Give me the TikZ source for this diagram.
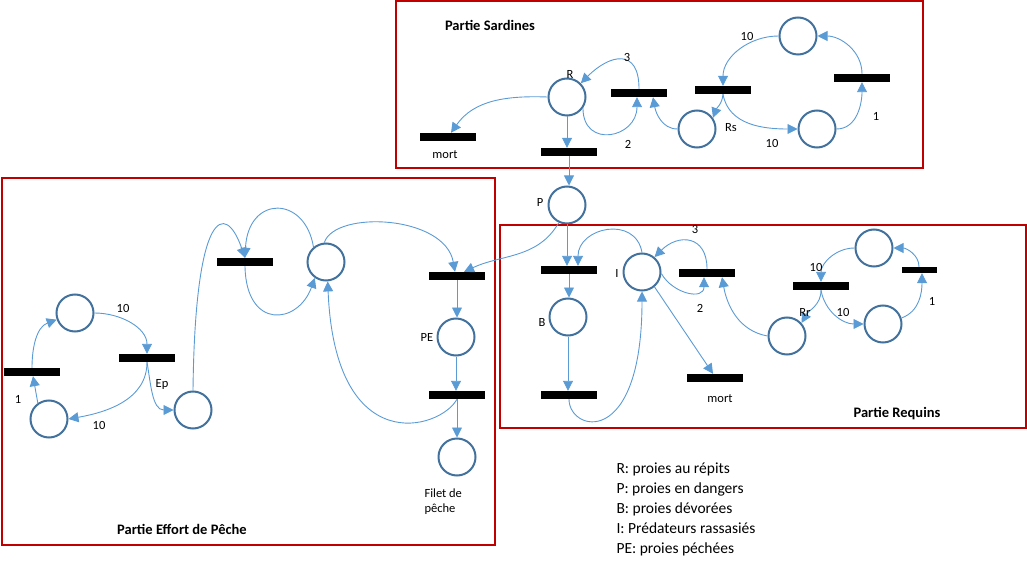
\documentclass[tikz,border=0pt]{standalone}
\usepackage{fontspec}
\setmainfont{Carlito}
\usetikzlibrary{arrows.meta}

\definecolor{placeblue}{HTML}{41719C}
\definecolor{arcblue}{HTML}{5B9BD5}
\definecolor{boxred}{HTML}{C00000}

\tikzset{
  place/.style={circle,draw=placeblue,line width=2pt,minimum size=37pt,inner sep=0pt},
  trans/.style={fill=black,minimum width=56pt,minimum height=8pt,inner sep=0pt},
  arc/.style={draw=arcblue,line width=0.9pt,-{Triangle[length=10pt,width=10pt]}},
  partie/.style={draw=boxred,line width=2pt},
  titre/.style={font=\fontsize{14.5}{17}\selectfont\bfseries}
}

\begin{document}
\begin{tikzpicture}[x=1pt,y=-1pt,font=\fontsize{12.5}{15}\selectfont]
\useasboundingbox (0,0) rectangle (1027,569);

\begin{scope}
\draw[partie] (396,1) rectangle (923,168);
\node[titre] (ts) at (490,25) {Partie Sardines};

\node[place] (r) at (567,97) {};
\node[place] (rs) at (697,129) {};
\node[place] (s1) at (798,36) {};
\node[place] (s2) at (817,129) {};
\node[trans] (tm1) at (448,137) {};
\node[trans] (tr) at (569,152) {};
\node[trans] (tr2) at (639,93) {};
\node[trans] (trs) at (723,90) {};
\node[trans] (tsd) at (862,78) {};

\draw[arc] (r.west) to[out=178,in=55] ([xshift=3]tm1.north);
\draw[arc] (r.south) -- (r.south |- tr.north);
\draw[arc] (r.-35) to[out=-90,in=-90,looseness=1.9] ([xshift=-2]tr2.south);
\draw[arc] (tr2.north) to[out=90,in=45,looseness=1.8] (r.45);
\draw[arc] (rs.west) to[out=180,in=-80] ([xshift=14]tr2.south);
\draw[arc] (trs.south) to[out=-95,in=70] (rs.35);
\draw[arc] (trs.south) to[out=-80,in=180] (s2.west);
\draw[arc] (s2.east) to[out=0,in=-90] (tsd.south);
\draw[arc] (tsd.north) to[out=90,in=0] (s1.east);
\draw[arc] (s1.west) to[out=180,in=90] (trs.north);

\node at (570,74) {R};
\node at (627,57) {3};
\node at (628,144) {2};
\node at (445,155) {mort};
\node at (731,128) {Rs};
\node at (747,36) {10};
\node at (772,143) {10};
\node at (876,116) {1};
\end{scope}

\node[place] (p) at (567,205) {};
\draw[arc] (tr.south) -- (tr.south |- p.north);
\node at (540,202) {P};

\begin{scope}
\draw[partie] (500,225) rectangle (1026,428);
\node[titre] (tq) at (897,414) {Partie Requins};

\node[trans] (tp) at (569,270) {};
\node[place] (b) at (568,317) {};
\node[trans] (tb) at (569,395) {};
\node[place] (i) at (642,272) {};
\node[trans] (ti) at (707,273) {};
\node[trans] (tm2) at (715,378) {};
\node[place] (rr) at (787,336) {};
\node[trans] (trr) at (821,286) {};
\node[place] (q1) at (874,248) {};
\node[place] (q2) at (883,324) {};
\node[trans,minimum width=35pt,minimum height=6pt] (tq1) at (919,270) {};

\draw[arc] (p.south) -- (p.south |- tp.north);
\draw[arc] (i.north) to[out=100,in=90,looseness=1.5] ([xshift=9]tp.north);
\draw[arc] (tp.south) -- (tp.south |- b.north);
\draw[arc] (b.south) -- (b.south |- tb.north);
\draw[arc] (tb.south) .. controls (569,432) and (642,450) .. (i.south);
\draw[arc] (i.-5) to[out=-60,in=-90,looseness=1.4] ([xshift=-3]ti.south);
\draw[arc] (ti.north) to[out=90,in=45,looseness=1.6] (i.50);
\draw[arc] (i.-50) -- ([xshift=-2]tm2.north);
\draw[arc] (rr.west) to[out=170,in=-80] ([xshift=15]ti.south);
\draw[arc] (trr.south) to[out=-90,in=60] (rr.42);
\draw[arc] (trr.south) to[out=-80,in=180] (q2.west);
\draw[arc] (q2.18) to[out=20,in=-90] ([xshift=3]tq1.south);
\draw[arc] (tq1.north) to[out=90,in=0] (q1.east);
\draw[arc] (q1.west) to[out=180,in=90] (trr.north);

\node at (542,322) {B};
\node at (617,273) {I};
\node at (695,229) {3};
\node at (700,308) {2};
\node at (720,399) {mort};
\node at (816,267) {10};
\node at (805,312) {Rr};
\node at (843,312) {10};
\node at (932,301) {1};
\end{scope}

\begin{scope}
\draw[partie] (2,178) rectangle (495,545);
\node[titre] (te) at (182,529) {Partie Effort de Pêche};

\node[place] (e1) at (75,313) {};
\node[trans] (te1) at (32,372) {};
\node[place] (e2) at (49,419) {};
\node[trans] (tep) at (147,358) {};
\node[place] (ep) at (193,410) {};
\node[trans] (te2) at (245,262) {};
\node[place] (m) at (326,262) {};
\node[trans] (tf) at (457,276) {};
\node[place] (pe) at (456,337) {};
\node[trans] (tpe) at (457,395) {};
\node[place] (filet) at (457,457) {};

\draw[arc] (e2.125) -- ([xshift=1]te1.south);
\draw[arc] (te1.north) to[out=90,in=200] (e1.200);
\draw[arc] (e1.east) to[out=0,in=90] (tep.north);
\draw[arc] (tep.south) to[out=-90,in=10] (e2.east);
\draw[arc] (tep.south) to[out=-80,in=180] (ep.west);
\draw[arc] (ep.north) .. controls (195,210) and (225,200) .. (te2.north);
\draw[arc] (m.130) .. controls (305,195) and (248,195) .. (te2.north);
\draw[arc] (te2.south) .. controls (246,330) and (298,325) .. (m.-125);
\draw[arc] (m.95) .. controls (335,210) and (445,215) .. ([xshift=-2]tf.north);
\draw[arc] (p.-115) to[out=-120,in=25] ([xshift=7]tf.north);
\draw[arc] (tf.south) -- (tf.south |- pe.north);
\draw[arc] (pe.south) -- (pe.south |- tpe.north);
\draw[arc] (tpe.south) .. controls (440,430) and (335,460) .. (m.-85);
\draw[arc] (tpe.south) -- (filet.north);

\node at (123,308) {10};
\node at (162,384) {Ep};
\node at (18,399) {1};
\node at (99,425) {10};
\node at (427,337) {PE};
\node[anchor=west,align=left] at (421,502) {Filet de\\pêche};
\end{scope}

\node[anchor=west,align=left,font=\fontsize{15.5}{20}\selectfont] (leg) at (613,509)
  {R: proies au répits\\P: proies en dangers\\B: proies dévorées\\I: Prédateurs rassasiés\\PE: proies péchées};

\end{tikzpicture}
\end{document}
